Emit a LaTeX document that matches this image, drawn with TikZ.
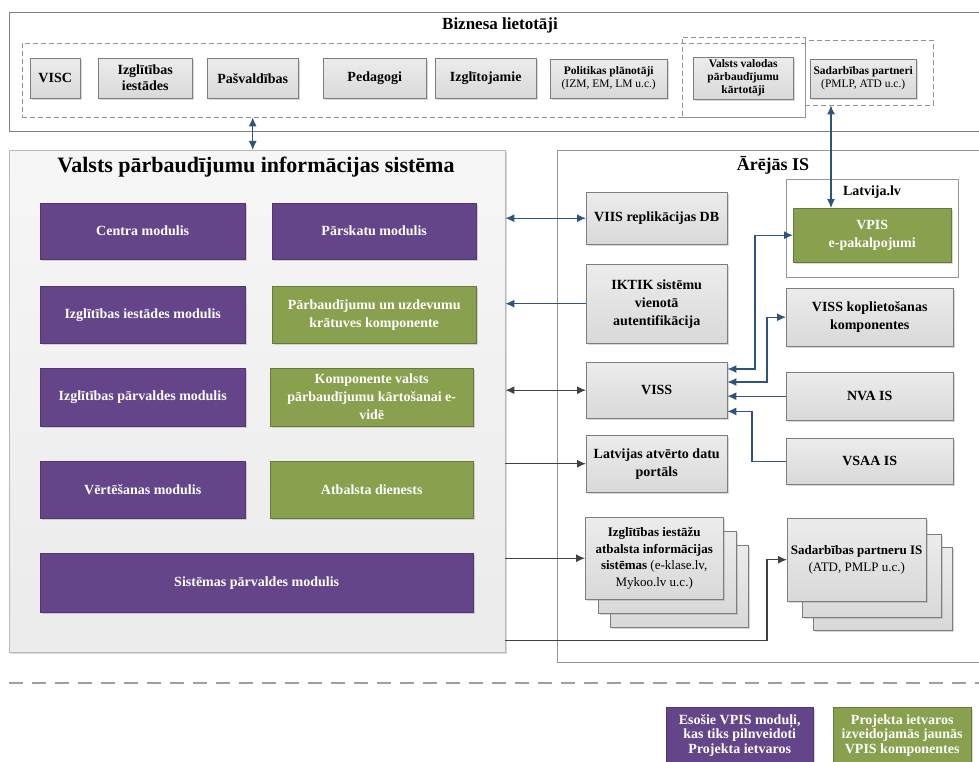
\documentclass[tikz,border=0pt]{standalone}
\usepackage{fontspec}
\setmainfont{Liberation Serif}
\usetikzlibrary{arrows.meta,shadows}

\definecolor{modpurple}{RGB}{100,69,138}
\definecolor{compgreen}{RGB}{137,160,78}
\definecolor{arrblue}{RGB}{46,84,126}
\definecolor{arrdark}{RGB}{64,64,64}
\definecolor{boxedge}{RGB}{125,125,125}
\definecolor{frameedge}{RGB}{150,150,150}

\tikzset{
  softshadow/.style={drop shadow={shadow xshift=1.5pt,shadow yshift=-1.5pt,opacity=.3}},
  modbox/.style={draw=modpurple!80!black, fill=modpurple, text=white, align=center,
    anchor=north west, inner sep=2pt, softshadow,
    font=\bfseries\fontsize{14}{18}\selectfont},
  compbox/.style={modbox, draw=compgreen!75!black, fill=compgreen},
  graybox/.style={draw=boxedge, top color=gray!15, bottom color=gray!30, align=center,
    anchor=north west, inner sep=2pt, softshadow,
    font=\bfseries\fontsize{14}{18}\selectfont},
  stackbox/.style={graybox, font=\bfseries\fontsize{13}{16.5}\selectfont},
  usrbox/.style={graybox, font=\bfseries\fontsize{14}{16}\selectfont},
  smallbox/.style={graybox, inner sep=1pt, font=\bfseries\fontsize{11.5}{13}\selectfont},
  grp/.style={draw=gray!85, dash pattern=on 5pt off 3pt, anchor=north west},
  frame/.style={draw=frameedge, fill=white, anchor=north west},
  bluearr/.style={draw=arrblue, line width=1.2pt, >={Latex[length=9pt,width=8pt]}},
  darkarr/.style={draw=arrdark, line width=1.2pt, >={Latex[length=9pt,width=8pt]}}
}

\begin{document}
\begin{tikzpicture}[x=1pt,y=-1pt]
\useasboundingbox (0,0) rectangle (979,762);

% frames
\node[frame, draw=gray, minimum width=985pt, minimum height=119pt] (bizframe) at (9,12) {};
\node[font=\bfseries\fontsize{17}{20}\selectfont] (biztitle) at (500,25) {Biznesa lietotāji};
\node[frame, draw=gray!55, top color=gray!7, bottom color=gray!16, softshadow,
  minimum width=496pt, minimum height=502pt] (vpis) at (9,150) {};
\node[font=\bfseries\fontsize{22}{26}\selectfont] (vpistitle) at (256,167) {Valsts pārbaudījumu informācijas sistēma};
\node[frame, minimum width=440pt, minimum height=512pt] (ext) at (557,150) {};
\node[font=\bfseries\fontsize{18}{22}\selectfont] (exttitle) at (773,165) {Ārējās IS};
\node[frame, minimum width=172pt, minimum height=98pt] (latvija) at (786,179) {};
\node[font=\bfseries\fontsize{14}{16}\selectfont] (latvijatitle) at (872,192) {Latvija.lv};

% business users
\node[grp, minimum width=783pt, minimum height=74pt] (usergrp) at (22,43) {};
\node[grp, minimum width=123pt, minimum height=80pt] (examgrp) at (682,37) {};
\node[grp, minimum width=128pt, minimum height=65pt] (partgrp) at (805,40) {};
\node[usrbox, minimum width=50pt, minimum height=40pt] (visc) at (30,58) {VISC};
\node[usrbox, minimum width=94pt, minimum height=40pt] (izgl) at (98,58) {Izglītības\\iestādes};
\node[usrbox, minimum width=91pt, minimum height=40pt] (pasv) at (207,58) {Pašvaldības};
\node[usrbox, minimum width=103pt, minimum height=40pt] (ped) at (323,58) {Pedagogi};
\node[usrbox, minimum width=101pt, minimum height=40pt] (izgltoj) at (435,58) {Izglītojamie};
\node[smallbox, minimum width=117pt, minimum height=39pt] (polit) at (550,59) {Politikas plānotāji\\{\mdseries (IZM, EM, LM u.c.)}};
\node[smallbox, minimum width=100pt, minimum height=42pt] (valsts) at (693,57) {Valsts valodas\\pārbaudījumu\\kārtotāji};
\node[smallbox, minimum width=106pt, minimum height=39pt] (sadarb) at (810,59) {Sadarbības partneri\\{\mdseries (PMLP, ATD u.c.)}};

% VPIS modules
\node[modbox, minimum width=205pt, minimum height=56pt] (centra) at (40,203) {Centra modulis};
\node[modbox, minimum width=204pt, minimum height=56pt] (parskatu) at (272,203) {Pārskatu modulis};
\node[modbox, minimum width=205pt, minimum height=57pt] (iestades) at (40,286) {Izglītības iestādes modulis};
\node[compbox, minimum width=204pt, minimum height=57pt] (kratuve) at (272,286) {Pārbaudījumu un uzdevumu\\krātuves komponente};
\node[modbox, minimum width=205pt, minimum height=58pt] (parvaldes) at (40,368) {Izglītības pārvaldes modulis};
\node[compbox, minimum width=203pt, minimum height=58pt] (evide) at (270,368) {Komponente valsts\\pārbaudījumu kārtošanai e-\\vidē};
\node[modbox, minimum width=205pt, minimum height=57pt] (vertesanas) at (40,461) {Vērtēšanas modulis};
\node[compbox, minimum width=203pt, minimum height=57pt] (atbalsts) at (270,461) {Atbalsta dienests};
\node[modbox, minimum width=433pt, minimum height=59pt] (sistemas) at (40,553) {Sistēmas pārvaldes modulis};

% external systems
\node[compbox, minimum width=158pt, minimum height=54pt] (vpisep) at (793,208) {VPIS\\e-pakalpojumi};
\node[graybox, minimum width=141pt, minimum height=52pt] (viisdb) at (586,192) {VIIS replikācijas DB};
\node[graybox, minimum width=141pt, minimum height=79pt] (iktik) at (586,264) {IKTIK sistēmu\\vienotā\\autentifikācija};
\node[graybox, minimum width=167pt, minimum height=58pt] (visskopl) at (786,288) {VISS koplietošanas\\komponentes};
\node[graybox, minimum width=141pt, minimum height=56pt] (viss) at (586,362) {VISS};
\node[graybox, minimum width=167pt, minimum height=48pt] (nva) at (786,372) {NVA IS};
\node[graybox, minimum width=167pt, minimum height=46pt] (vsaa) at (786,438) {VSAA IS};
\node[graybox, minimum width=141pt, minimum height=57pt] (portal) at (586,435) {Latvijas atvērto datu\\portāls};
\node[stackbox, minimum width=138pt, minimum height=82pt] (izglis3) at (610,545) {};
\node[stackbox, minimum width=138pt, minimum height=82pt] (izglis2) at (598,531) {};
\node[stackbox, minimum width=138pt, minimum height=82pt] (izglis) at (585,517) {Izglītības iestāžu\\atbalsta informācijas\\sistēmas {\mdseries (e-klase.lv,}\\{\mdseries Mykoo.lv u.c.)}};
\node[stackbox, minimum width=139pt, minimum height=83pt] (sadarbis3) at (813,547) {};
\node[stackbox, minimum width=139pt, minimum height=83pt] (sadarbis2) at (802,534) {};
\node[stackbox, minimum width=139pt, minimum height=83pt] (sadarbis) at (787,518) {Sadarbības partneru IS\\{\mdseries (ATD, PMLP u.c.)}};

% connectors
\coordinate (partout) at ([xshift=26pt]partgrp.south west);
\coordinate (sysout) at ([yshift=12pt]vpis.south east);
\coordinate (vissA) at ([yshift=-7pt]viss.north east);
\coordinate (vissB) at ([yshift=-20pt]viss.north east);
\coordinate (vissD) at ([yshift=7pt]viss.south east);
\draw[bluearr,<->] (pasv |- usergrp.south) -- (pasv |- vpis.north);
\draw[bluearr,<->] (partout) -- (partout |- vpisep.north);
\draw[bluearr,<->] (vpis.east |- viisdb.west) -- (viisdb.west);
\draw[bluearr,->] (iktik.west) -- (vpis.east |- iktik.west);
\draw[darkarr,<->] (vpis.east |- viss.west) -- (viss.west);
\draw[darkarr,->] (vpis.east |- portal.west) -- (portal.west);
\draw[darkarr,->] (vpis.east |- izglis.west) -- (izglis.west);
\draw[darkarr,->] (sysout) -| ([xshift=-20pt]sadarbis.west) -- (sadarbis.west);
\draw[bluearr,<->] (vissA) -| ([xshift=-38pt]vpisep.west) -- (vpisep.west);
\draw[bluearr,<->] (vissB) -| ([xshift=-19pt]visskopl.west) -- (visskopl.west);
\draw[bluearr,->] (nva.west) -- (viss.east |- nva.west);
\draw[bluearr,->] (vsaa.west) -- ++(-34pt,0) |- (vissD);

% legend
\draw[gray!75, line width=1.5pt, dash pattern=on 14pt off 9pt] (9,683) -- (979,683);
\node[modbox, minimum width=147pt, minimum height=56pt, font=\bfseries\fontsize{14}{14.5}\selectfont] (oldmod) at (666,707) {Esošie VPIS moduļi,\\kas tiks pilnveidoti\\Projekta ietvaros};
\node[compbox, minimum width=138pt, minimum height=56pt, font=\bfseries\fontsize{14}{14.5}\selectfont] (newcomp) at (833,707) {Projekta ietvaros\\izveidojamās jaunās\\VPIS komponentes};
\end{tikzpicture}
\end{document}
